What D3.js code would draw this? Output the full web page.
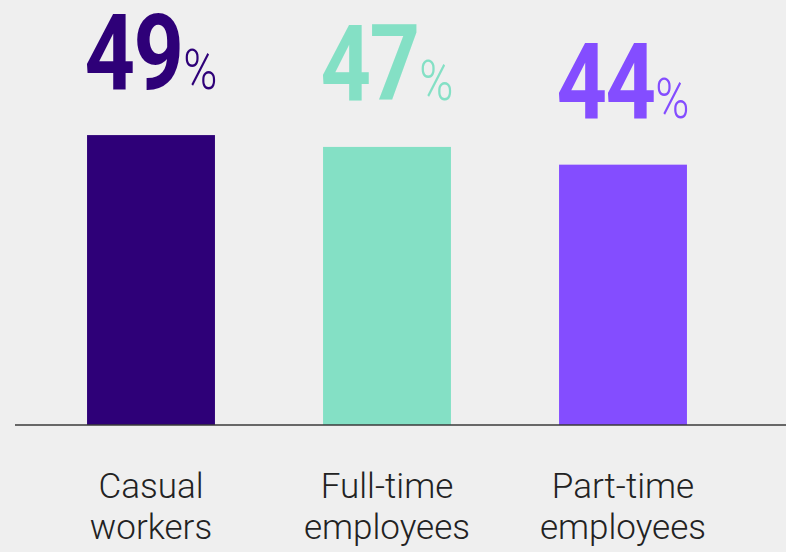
<!DOCTYPE html>
<html>
<head>
<meta charset="utf-8">
<script src="https://cdn.jsdelivr.net/npm/d3@7"></script>
<style>
  html, body { margin: 0; padding: 0; background: #efefef; }
  svg { display: block; }
</style>
</head>
<body>
<svg id="chart" width="786" height="552"></svg>
<script>
// Share of respondents by employment type
const categories = ["Casual workers", "Full-time employees", "Part-time employees"];
const labelLines = [["Casual", "workers"], ["Full-time", "employees"], ["Part-time", "employees"]];
const values = [49, 47, 44];
const colors = ["#2e0078", "#84e0c5", "#844dff"];

const W = 786, H = 552;
const svg = d3.select("#chart");

svg.append("rect").attr("width", W).attr("height", H).attr("fill", "#efefef");

const x = d3.scaleBand()
  .domain(categories)
  .range([33, 741])
  .paddingInner(0.458)
  .paddingOuter(0.229);

const y = d3.scaleLinear().domain([0, 60]).range([425, 70]);

// bars
svg.selectAll("rect.bar")
  .data(categories)
  .join("rect")
  .attr("class", "bar")
  .attr("x", d => x(d))
  .attr("y", (d, i) => y(values[i]))
  .attr("width", x.bandwidth())
  .attr("height", (d, i) => y(0) - y(values[i]))
  .attr("fill", (d, i) => colors[i]);

// baseline
svg.append("line")
  .attr("x1", 15).attr("x2", W)
  .attr("y1", y(0)).attr("y2", y(0))
  .attr("stroke", "#3a3a3a")
  .attr("stroke-width", 1.5);

// value labels, condensed by a horizontal scale
const sx = 0.84;
categories.forEach((c, i) => {
  const cx = x(c) + x.bandwidth() / 2;
  const g = svg.append("g")
    .attr("transform", `translate(${cx},${y(values[i]) - 46.5}) scale(${sx},1)`);
  const t = g.append("text")
    .attr("text-anchor", "middle")
    .attr("fill", colors[i])
    .style("font-family", "Roboto, 'Liberation Sans', sans-serif");
  t.append("tspan")
    .style("font-size", "105px")
    .style("font-weight", 700)
    .attr("letter-spacing", "-2px")
    .text(values[i]);
  t.append("tspan")
    .style("font-size", "55px")
    .style("font-weight", 300)
    .attr("dx", 1)
    .text("%");
});

// category labels
const catG = svg.append("g")
  .style("font-family", "Roboto, 'Noto Sans', sans-serif")
  .style("font-size", "35px")
  .style("font-weight", 300)
  .attr("fill", "#222");
categories.forEach((c, i) => {
  const cx = x(c) + x.bandwidth() / 2;
  const t = catG.append("text").attr("text-anchor", "middle");
  labelLines[i].forEach((line, j) => {
    t.append("tspan").attr("x", cx).attr("y", 498 + j * 41).text(line);
  });
});
</script>
</body>
</html>
